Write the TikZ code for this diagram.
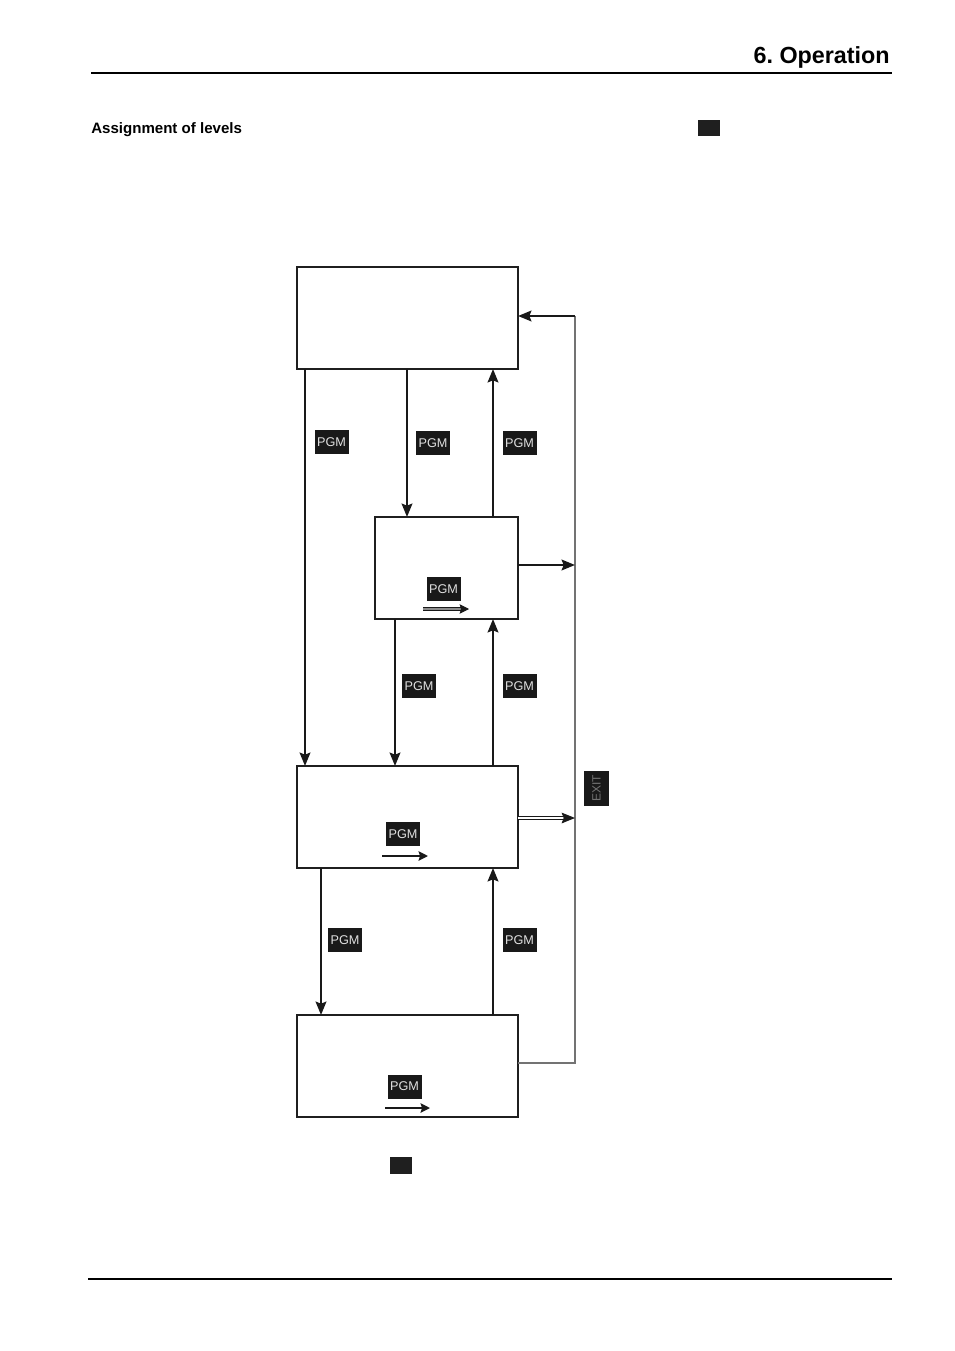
\documentclass[tikz,border=0pt]{standalone}
\usepackage{fontspec}
\setmainfont{Liberation Sans}
\setsansfont{Liberation Sans}
\usetikzlibrary{arrows.meta}
\frenchspacing
\begin{document}
\begin{tikzpicture}[x=0.75pt,y=-0.75pt,
  stepbox/.style={draw=black!88,line width=1.9pt,inner sep=0pt,outer sep=0pt,anchor=north west,fill=white},
  arr/.style={line width=1.7pt,black!90,-{Stealth[length=10pt,width=8pt,inset=1.5pt]}},
  pgm/.style={fill=black!90,text=black!12,font=\sffamily\fontsize{9.5}{10}\selectfont,inner sep=0pt,minimum width=25.5pt,minimum height=18pt},
  keysq/.style={fill=black!88,inner sep=0pt,minimum width=16.5pt,minimum height=12.5pt},
  grayline/.style={line width=1.2pt,black!55}]
\useasboundingbox (0,0) rectangle (954,1351);
% header
\node[anchor=base east,inner sep=0pt,font=\bfseries\fontsize{17.5}{20}\selectfont] (head) at (890,64) {6. Operation};
\coordinate (hl1) at (91,73);
\coordinate (hl2) at (892,73);
\draw[line width=0.8pt] (hl1) -- (hl2);
\node[anchor=west,inner sep=0pt,font=\bfseries\fontsize{11.3}{13}\selectfont] (sub) at (91,130) {Assignment of levels};
\node[keysq] (sq1) at (709,128) {};
% boxes
\node[stepbox,minimum width=165.75pt,minimum height=76.5pt] (b1) at (297,267) {};
\node[stepbox,minimum width=107.25pt,minimum height=76.5pt] (b2) at (375,517) {};
\node[stepbox,minimum width=165.75pt,minimum height=76.5pt] (b3) at (297,766) {};
\node[stepbox,minimum width=165.75pt,minimum height=76.5pt] (b4) at (297,1015) {};
% vertical connectors
\draw[arr] (305,0 |- b1.south) -- (305,0 |- b3.north);
\draw[arr] (407,0 |- b1.south) -- (407,0 |- b2.north);
\draw[arr] (493,0 |- b2.north) -- (493,0 |- b1.south);
\draw[arr] (395,0 |- b2.south) -- (395,0 |- b3.north);
\draw[arr] (493,0 |- b3.north) -- (493,0 |- b2.south);
\draw[arr] (321,0 |- b3.south) -- (321,0 |- b4.north);
\draw[arr] (493,0 |- b4.north) -- (493,0 |- b3.south);
% labels
\node[pgm] (p1) at (331.5,442) {PGM};
\node[pgm] (p2) at (433,443) {PGM};
\node[pgm] (p3) at (519.5,443) {PGM};
\node[pgm] (p4) at (419,686) {PGM};
\node[pgm] (p5) at (519.5,686) {PGM};
\node[pgm] (p6) at (345,940) {PGM};
\node[pgm] (p7) at (519.5,940) {PGM};
% exit rail
\coordinate (r1) at (575,316);
\coordinate (r4) at (575,1063);
\draw[grayline] (b4.east |- r4) -- (r4) -- (r1);
\draw[arr] (r1) -- (r1 -| b1.east);
\draw[arr] (b2.east |- 0,565) -- (575,565);
\draw[line width=0.8pt,black!90,double=white,double distance=1.5pt,-{Stealth[length=10pt,width=8pt,inset=1.5pt]}] (b3.east |- 0,818) -- (575,818);
\node[fill=black!90,text=black!55,rotate=90,font=\sffamily\fontsize{9}{10}\selectfont,inner sep=0pt,minimum width=26pt,minimum height=18.5pt] (exit) at (596.5,788.5) {EXIT};
% inner PGM keys
\node[pgm] (i2) at (443.5,589) {PGM};
\coordinate (i2a) at (423,609);
\coordinate (i2b) at (469,609);
\draw[line width=0.7pt,black!90,double=black!45,double distance=1.4pt,-{Stealth[length=7pt,width=7pt,inset=1pt]}] (i2a) -- (i2b);
\node[pgm] (i3) at (403,834) {PGM};
\coordinate (i3a) at (382,856);
\coordinate (i3b) at (428,856);
\draw[line width=2pt,black!90,-{Stealth[length=7pt,width=7pt,inset=1pt]}] (i3a) -- (i3b);
\node[pgm] (i4) at (404.5,1086.5) {PGM};
\coordinate (i4a) at (385,1108);
\coordinate (i4b) at (430,1108);
\draw[line width=2pt,black!90,-{Stealth[length=7pt,width=7pt,inset=1pt]}] (i4a) -- (i4b);
\node[keysq] (sq2) at (401,1165.5) {};
% footer
\coordinate (f1) at (88,1279);
\coordinate (f2) at (892,1279);
\draw[line width=2pt] (f1) -- (f2);
\end{tikzpicture}
\end{document}
